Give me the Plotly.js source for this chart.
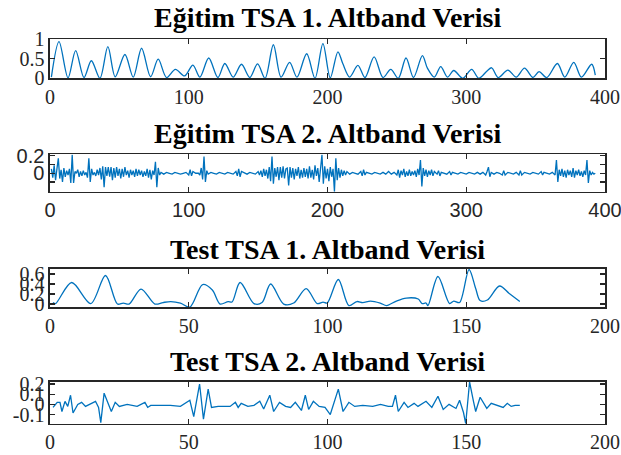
<!DOCTYPE html>
<html>
<head>
<meta charset="utf-8">
<script src="https://cdn.plot.ly/plotly-3.0.1.min.js"></script>
<style>html,body{margin:0;padding:0;background:#fff;}#chart{width:621px;height:455px;}</style>
</head>
<body>
<div id="chart"></div>
<script>
// Subplot titles
const titles = ["Eğitim TSA 1. Altband Verisi", "Eğitim TSA 2. Altband Verisi", "Test TSA 1. Altband Verisi", "Test TSA 2. Altband Verisi"];

// Eğitim TSA 1 (vertices)
const train1X = [1, 6.5, 13, 18.5, 24.5, 29.8, 36, 41.7, 47, 54, 60, 66, 72.5, 78, 84, 90.4, 97, 103, 108, 114.4, 121, 126, 132, 138, 144, 149.6, 155, 161, 166.5, 172.7, 178, 185, 191, 196.7, 202, 207.5, 211, 216, 221.9, 227, 233.6, 240, 245.6, 251, 256.6, 262, 268.4, 272, 277, 281.6, 286.5, 291, 297.5, 303.9, 309, 315, 318.3, 323, 330, 336, 342, 348, 352.5, 358, 365.7, 371, 377.5, 383, 390.4, 393];
const train1Y = [0.03, 0.94, 0.01, 0.71, 0.02, 0.45, 0.0, 0.81, 0.04, 0.61, 0.03, 0.77, 0.04, 0.49, 0.02, 0.23, 0.06, 0.34, 0.03, 0.52, 0.02, 0.38, 0.03, 0.36, 0.02, 0.37, 0.0, 0.86, 0.03, 0.41, 0.03, 0.63, 0.0, 0.89, 0.01, 0.68, 0.38, 0.03, 0.33, 0.02, 0.55, 0.02, 0.23, 0.0, 0.52, 0.02, 0.58, 0.26, 0.03, 0.30, 0.03, 0.20, 0.0, 0.23, 0.0, 0.19, 0.27, 0.02, 0.21, 0.03, 0.26, 0.02, 0.17, 0.02, 0.38, 0.03, 0.41, 0.03, 0.36, 0.08];

// Eğitim TSA 2
const train2X = [1,2,3,4,5,6,7,8,9,10,11,12,13,14,15,16,17,18,19,20,21,22,23,24,25,26,27,28,29,30,31,32,33,34,35,36,37,38,39,40,41,42,43,44,45,46,47,48,49,50,51,52,53,54,55,56,57,58,59,60,61,62,63,64,65,66,67,68,69,70,71,72,73,74,75,76,77,78,79,80,82,84,86,88,90,92,94,96,98,100,101,102,103,105,107,108,109,110,111,112,113,114,116,118,120,122,124,126,128,130,132,134,135,136,137,138,140,142,144,146,148,150,151,152,153,154,155,156,157,158,159,160,161,162,163,164,165,166,167,168,169,170,171,172,173,174,175,176,177,178,179,180,181,182,183,184,185,186,187,188,189,190,191,192,193,194,195,196,197,198,199,200,201,202,203,204,205,206,207,208,209,210,211,212,213,214,216,218,220,222,224,225,226,227,228,230,232,234,236,238,240,242,244,246,248,250,251,252,253,254,255,256,257,258,259,260,261,262,263,264,265,266,267,268,269,270,271,272,273,274,275,276,277,279,280,281,282,284,286,288,289,290,292,294,296,298,300,302,304,306,308,310,312,314,315,316,317,318,320,322,324,326,327,328,330,332,334,336,338,339,340,342,344,346,348,350,352,354,355,356,358,360,362,364,365,366,367,368,369,370,371,372,373,374,375,376,377,378,379,380,381,382,383,384,385,386,387,388,389,390,391,392,393];
const train2Y = [0.05,-0.05,0.09,-0.08,0.05,0.17,-0.06,0.04,-0.10,0.06,-0.04,0.03,-0.02,0.05,-0.11,0.21,-0.11,0.02,0.0,0.04,-0.04,0.02,-0.03,0.03,-0.02,0.01,-0.05,0.17,-0.10,0.05,-0.02,0.01,-0.03,0.04,-0.02,0.06,-0.07,0.08,-0.16,0.07,-0.03,0.07,-0.04,0.07,-0.08,0.06,-0.05,0.07,-0.03,0.05,-0.06,0.05,-0.04,0.07,-0.02,0.03,-0.05,0.04,-0.02,0.03,-0.04,0.05,-0.03,0.04,-0.02,0.03,-0.04,0.02,-0.03,0.05,-0.05,0.04,-0.07,0.03,-0.02,0.13,-0.16,0.06,-0.02,0.01,-0.01,0.01,0.0,-0.01,0.01,0.0,-0.01,0.0,0.01,-0.02,0.04,-0.03,0.02,0.0,0.0,-0.02,0.06,-0.07,0.19,-0.10,0.03,-0.01,0.01,0.0,-0.01,0.01,0.0,-0.01,0.01,0.0,-0.01,0.02,-0.03,0.05,-0.04,0.02,0.0,-0.01,0.01,0.0,-0.01,0.02,-0.02,0.03,-0.04,0.05,-0.03,0.04,-0.06,0.07,-0.09,0.19,-0.12,0.06,-0.04,0.07,-0.08,0.07,-0.05,0.08,-0.06,0.05,0.06,-0.14,0.07,-0.05,0.06,-0.07,0.05,-0.03,0.07,-0.06,0.04,-0.05,0.06,-0.04,0.05,-0.06,0.08,-0.05,0.04,-0.07,0.09,-0.03,0.06,-0.10,0.08,0.21,-0.12,0.08,-0.06,0.05,-0.09,0.07,-0.04,0.05,-0.21,0.17,-0.08,0.06,-0.05,0.04,-0.03,0.03,-0.02,0.02,-0.01,0.01,0.0,-0.01,0.02,-0.03,0.04,-0.02,0.01,0.0,-0.01,0.01,0.0,-0.01,0.01,-0.01,0.02,-0.01,0.01,-0.02,0.04,-0.05,0.03,-0.02,0.05,-0.04,0.02,-0.03,0.04,-0.03,0.02,-0.02,0.03,-0.04,0.05,-0.02,0.15,-0.15,0.06,-0.03,0.04,-0.04,0.03,-0.02,0.04,-0.03,0.02,-0.01,0.03,-0.03,0.01,0.0,-0.01,0.02,-0.02,0.01,0.0,-0.01,0.01,0.0,-0.01,0.01,0.0,-0.01,0.01,-0.01,0.01,-0.02,0.02,0.07,-0.04,0.01,-0.01,0.01,0.0,-0.02,0.03,-0.02,0.01,0.0,-0.01,0.01,-0.02,0.03,-0.02,0.01,0.0,-0.01,0.01,0.0,-0.01,0.02,-0.02,0.01,0.0,-0.01,0.01,-0.02,0.15,-0.10,0.04,-0.03,0.05,-0.04,0.03,-0.05,0.04,-0.02,0.03,-0.04,0.06,-0.05,0.03,-0.02,0.04,-0.03,0.02,-0.04,0.03,-0.02,0.15,-0.11,0.03,-0.02,0.01,-0.01,0.0];

// Test TSA 1
const test1X = [1.1, 2, 7.8, 14.7, 20, 24.3, 26.4, 28.5, 32.8, 37.8, 40.7, 43.5, 47, 50.4, 55, 58.5, 61.3, 64.2, 65.6, 68.5, 73.5, 76.4, 79.5, 84.2, 87.8, 92.3, 96.3, 98.4, 99.9, 103.9, 107.7, 110.6, 112.7, 115.5, 119, 121.3, 124.8, 128.4, 132.7, 134.1, 135.5, 136.2, 139.8, 144, 145.5, 147.6, 151, 153.4, 155, 157.6, 162, 165.5, 169.3];
const test1Y = [0.03, 0.01, 0.43, 0.01, 0.57, 0.0, 0.02, 0.0, 0.30, 0.0, 0.03, 0.05, 0.02, -0.06, 0.39, 0.28, 0.0, 0.05, 0.04, 0.43, 0.01, 0.03, 0.40, 0.0, 0.02, 0.31, 0.01, 0.04, 0.02, 0.49, -0.03, 0.05, 0.03, 0.06, 0.02, -0.03, 0.06, 0.12, 0.10, 0.01, 0.02, -0.03, 0.55, 0.01, 0.06, 0.03, 0.69, 0.31, 0.07, 0.08, 0.36, 0.21, 0.05];

// Test TSA 2
const test2X = [1.1, 2.6, 3.6, 4.3, 5.4, 6.4, 7.4, 8.3, 10, 11.4, 12.8, 16.4, 17.5, 18.3, 19.5, 22.1, 23.5, 25, 27.8, 31.4, 34.2, 35.2, 36.3, 43.4, 47, 50.4, 51.8, 53.9, 55.3, 57, 58.2, 60.6, 64.9, 66.8, 67.8, 68.9, 71.3, 73.5, 75.6, 77, 79.2, 80.6, 82.7, 84.9, 86.7, 88.4, 90.6, 92, 93.2, 94.9, 97, 99.1, 101, 103.9, 105.6, 107.7, 109.8, 112.7, 116.3, 119.1, 121.9, 123.4, 124.5, 125.5, 127.6, 129, 131.2, 132.6, 135.5, 137.6, 139.8, 141.7, 143.8, 146.3, 147.6, 149, 149.8, 151.2, 152.6, 153.4, 155, 157.4, 159, 161.2, 163.3, 164.8, 166.2, 167.6, 169.3];
const test2Y = [-0.03, 0.02, 0.02, -0.07, 0.03, -0.02, 0.09, -0.085, 0.0, 0.02, -0.02, 0.03, -0.03, -0.18, 0.11, -0.07, 0.02, -0.02, 0.0, -0.02, 0.02, -0.03, -0.01, -0.01, -0.02, 0.04, -0.12, 0.20, -0.145, 0.15, -0.03, -0.02, -0.02, 0.02, -0.03, 0.01, -0.02, -0.01, 0.03, -0.045, 0.09, -0.07, 0.02, -0.02, -0.03, 0.02, -0.06, 0.09, -0.05, 0.03, -0.02, -0.03, -0.10, 0.15, -0.07, 0.02, -0.02, -0.01, -0.02, 0.0, -0.02, -0.02, 0.09, -0.07, 0.02, -0.03, 0.01, -0.02, 0.03, -0.03, 0.08, -0.05, 0.0, -0.04, 0.04, -0.08, -0.19, 0.22, 0.03, -0.07, 0.07, -0.04, 0.01, -0.01, -0.03, 0.01, -0.02, -0.01, -0.01];

// Axis tick settings
const xTicks400 = [0, 100, 200, 300, 400];
const xTicks200 = [0, 50, 100, 150, 200];
const y1Ticks = [0, 0.5, 1];
const y1Text = ["0", "0.5", "1"];
const y2Ticks = [-0.1, 0, 0.1, 0.2];
const y2Text = ["", "0", "", "0.2"];
const y3Ticks = [0, 0.2, 0.4, 0.6];
const y3Text = ["0", "0.2", "0.4", "0.6"];
const y4Ticks = [-0.1, 0, 0.1, 0.2];
const y4Text = ["-0.1", "0", "0.1", "0.2"];

const H = 455;
const boxes = [[39.3, 78.3], [154.3, 191.7], [269, 307.3], [382, 423.7]];
const titleY = [18, 133, 249, 361];
const lineColor = '#0072BD';
const axColor = '#262626';
const serif = 'Liberation Serif, Times New Roman, serif';
const sans = 'Liberation Sans, Arial, sans-serif';

const traces = [
  {x: train1X, y: train1Y, xaxis: 'x', yaxis: 'y', line: {shape: 'spline', smoothing: 0.9}},
  {x: train2X, y: train2Y, xaxis: 'x2', yaxis: 'y2', line: {}},
  {x: test1X, y: test1Y, xaxis: 'x3', yaxis: 'y3', line: {shape: 'spline', smoothing: 0.9}},
  {x: test2X, y: test2Y, xaxis: 'x4', yaxis: 'y4', line: {}}
].map(t => Object.assign(t, {type: 'scatter', mode: 'lines', showlegend: false, hoverinfo: 'skip', line: Object.assign({color: lineColor, width: 1.3}, t.line)}));

function dom(i) { return [1 - boxes[i][1] / H, 1 - boxes[i][0] / H]; }
function common(font) {
  return {showgrid: false, zeroline: false, showline: true, linecolor: axColor,
    linewidth: 1.6, mirror: 'allticks', ticks: 'inside', ticklen: 5, tickwidth: 1.3, tickcolor: axColor,
    ticklabeloverflow: 'allow', tickfont: {family: font, size: 20, color: axColor}, fixedrange: true};
}
function xa(i, range, ticks, font) {
  return Object.assign(common(font), {domain: [0, 1], range: range, tickmode: 'array', tickvals: ticks, ticktext: ticks.map(String),
    anchor: i === 0 ? 'y' : 'y' + (i + 1)});
}
function ya(i, range, ticks, text, font) {
  return Object.assign(common(font), {domain: dom(i), range: range, tickmode: 'array', tickvals: ticks, ticktext: text,
    anchor: i === 0 ? 'x' : 'x' + (i + 1)});
}

const layout = {
  width: 621, height: 455,
  margin: {l: 50, r: 16, t: 0, b: 0},
  paper_bgcolor: '#fff', plot_bgcolor: '#fff',
  xaxis: xa(0, [0, 400], xTicks400, serif),
  yaxis: ya(0, [0, 1], y1Ticks, y1Text, serif),
  xaxis2: xa(1, [0, 400], xTicks400, sans),
  yaxis2: ya(1, [-0.21, 0.216], y2Ticks, y2Text, sans),
  xaxis3: xa(2, [0, 200], xTicks200, serif),
  yaxis3: ya(2, [-0.065, 0.7], y3Ticks, y3Text, serif),
  xaxis4: xa(3, [0, 200], xTicks200, serif),
  yaxis4: ya(3, [-0.19, 0.22], y4Ticks, y4Text, serif),
  annotations: titles.map((t, i) => ({text: '<b>' + t + '</b>', xref: 'paper', yref: 'paper', x: 0.5, y: 1 - titleY[i] / H,
    xanchor: 'center', yanchor: 'middle', showarrow: false, font: {family: serif, size: 28, color: '#000'}}))
};

Plotly.newPlot('chart', traces, layout, {displayModeBar: false, staticPlot: true});
</script>
</body>
</html>
